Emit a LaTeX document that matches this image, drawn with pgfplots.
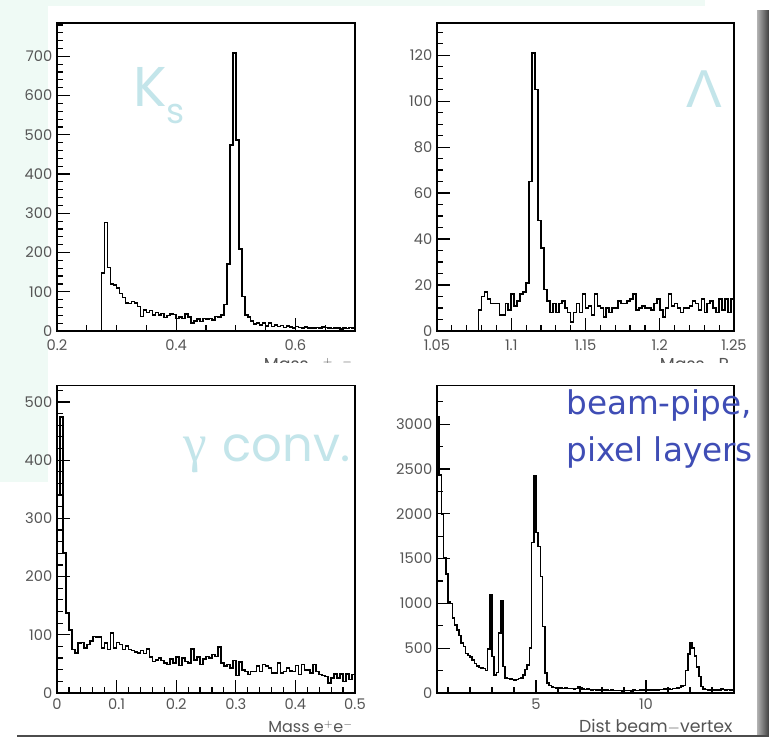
\documentclass[border=0pt]{standalone}
\usepackage{fontspec}
\setmainfont{Poppins}
\newfontfamily\serifgreek{Liberation Serif}
\newfontfamily\sansgreek{Liberation Sans}
\newfontfamily\comicfont{DejaVu Sans}
\usepackage{pgfplots}
\pgfplotsset{compat=1.18}
\definecolor{mint}{HTML}{EFFAF5}
\definecolor{lblue}{HTML}{C3E5EA}
\definecolor{dblue}{HTML}{3F4DB5}
\definecolor{tickgray}{HTML}{555555}
\pgfplotsset{
  rootstyle/.style={
    scale only axis,
    axis line style={line width=1.1pt},
    tick align=inside,
    xtick pos=bottom, ytick pos=left,
    major tick length=9.5pt, minor tick length=4.5pt,
    tick style={line width=0.9pt, black},
    ticklabel style={font=\fontsize{11}{11}\selectfont, text=tickgray},
    xticklabel style={yshift=-3pt},
    /pgf/number format/assume math mode=true,
    /pgf/number format/1000 sep={},
    scaled ticks=false,
    ymin=0,
  },
  hist/.style={const plot, black, line width=1.2pt, mark=none},
}
\begin{document}
\begin{tikzpicture}
\useasboundingbox (0,0) rectangle (576.75pt,552.75pt);
\fill[white] (0,0) rectangle (576.75pt,552.75pt);
\fill[mint] (0,191.25pt) rectangle (36pt,552.75pt);
\fill[mint] (0,548.25pt) rectangle (528.75pt,552.75pt);
\shade[left color=gray!60, right color=black!75] (567.75pt,0) rectangle (576.75pt,545pt);
\fill[black!70] (13pt,0) rectangle (576.75pt,1.6pt);

% ---------- Panel 1: K_s ----------
\begin{axis}[rootstyle, at={(42.75pt,304.5pt)}, anchor=south west,
  width=223.5pt, height=231pt,
  xmin=0.2, xmax=0.7, ymax=785,
  xtick={0.2,0.4,0.6}, minor xtick={0.25,0.3,0.35,0.45,0.5,0.55,0.65},
  ytick={0,100,...,700}, minor ytick={0,20,...,780}]
\addplot[hist] table {
x y
0.275 0
0.275 148
0.280 277
0.285 162
0.290 120
0.295 117
0.300 109
0.305 96
0.310 85
0.315 72
0.320 70
0.325 75
0.330 72
0.335 62
0.340 37
0.345 54
0.350 47
0.355 52
0.360 41
0.365 47
0.370 41
0.375 45
0.380 34
0.385 39
0.390 43
0.395 42
0.400 32
0.405 36
0.410 32
0.415 43
0.420 35
0.425 20
0.430 26
0.435 30
0.440 24
0.445 32
0.450 31
0.455 32
0.460 28
0.465 37
0.470 36
0.475 41
0.480 68
0.485 171
0.490 474
0.495 708
0.500 487
0.505 209
0.510 88
0.515 41
0.520 35
0.525 26
0.530 18
0.535 21
0.540 15
0.545 21
0.550 13
0.555 20
0.560 11
0.565 15
0.570 11
0.575 14
0.580 9
0.585 13
0.590 10
0.595 8
0.600 11
0.605 9
0.610 8
0.615 10
0.620 7
0.625 8
0.630 7
0.635 9
0.640 8
0.645 10
0.650 9
0.655 8
0.660 6
0.665 8
0.670 7
0.675 5
0.680 8
0.685 6
0.690 9
0.695 7
0.700 7
};
\end{axis}

% ---------- Panel 2: Lambda ----------
\begin{axis}[rootstyle, at={(327.75pt,304.5pt)}, anchor=south west,
  width=222.75pt, height=231pt,
  xmin=1.05, xmax=1.25, ymax=134,
  xtick={1.05,1.1,1.15,1.2,1.25},
  minor xtick={1.06,1.07,1.08,1.09,1.11,1.12,1.13,1.14,1.16,1.17,1.18,1.19,1.21,1.22,1.23,1.24},
  ytick={0,20,...,120}, minor ytick={0,5,...,130},
  xticklabel style={/pgf/number format/precision=2}]
\addplot[hist] table {
x y
1.078 0
1.078 9
1.080 15
1.082 17
1.084 14
1.086 12
1.088 12
1.090 12
1.092 7
1.094 7
1.096 12
1.098 9
1.100 16
1.102 11
1.104 13
1.106 16
1.108 17
1.110 21
1.112 65
1.114 121
1.116 105
1.118 48
1.120 36
1.122 18
1.124 13
1.126 8
1.128 12
1.130 8
1.132 12
1.134 13
1.136 10
1.138 8
1.140 4
1.142 8
1.144 12
1.146 8
1.148 16
1.150 10
1.152 11
1.154 7
1.156 16
1.158 11
1.160 10
1.162 6
1.164 10
1.166 8
1.168 10
1.170 10
1.172 13
1.174 12
1.176 12
1.178 13
1.180 14
1.182 16
1.184 9
1.186 10
1.188 11
1.190 10
1.192 10
1.194 9
1.196 12
1.198 14
1.200 9
1.202 6
1.204 10
1.206 16
1.208 11
1.210 12
1.212 10
1.214 8
1.216 10
1.218 10
1.220 11
1.222 13
1.224 12
1.226 9
1.228 14
1.230 8
1.232 12
1.234 13
1.236 10
1.238 8
1.240 14
1.242 9
1.244 14
1.246 8
1.248 14
1.250 14
};
\end{axis}

% ---------- Panel 3: gamma conversions ----------
\begin{axis}[rootstyle, at={(42.75pt,33pt)}, anchor=south west,
  width=223.5pt, height=230.5pt,
  xmin=0, xmax=0.5, ymax=528,
  xtick={0,0.1,0.2,0.3,0.4,0.5},
  minor xtick={0.02,0.04,0.06,0.08,0.12,0.14,0.16,0.18,0.22,0.24,0.26,0.28,0.32,0.34,0.36,0.38,0.42,0.44,0.46,0.48},
  ytick={0,100,...,500}, minor ytick={0,20,...,520},
  xticklabel style={yshift=2pt}]
\addplot[hist] table {
x y
0.000 0
0.000 340
0.005 474
0.010 240
0.015 137
0.020 108
0.025 75
0.030 69
0.035 86
0.040 87
0.045 77
0.050 83
0.055 89
0.060 97
0.065 96
0.070 96
0.075 77
0.080 86
0.085 75
0.090 103
0.095 77
0.100 87
0.105 83
0.110 75
0.115 81
0.120 75
0.125 73
0.130 70
0.135 69
0.140 73
0.145 68
0.150 76
0.155 62
0.160 54
0.165 57
0.170 60
0.175 56
0.180 52
0.185 49
0.190 58
0.195 52
0.200 62
0.205 47
0.210 60
0.215 54
0.220 52
0.225 76
0.230 57
0.235 62
0.240 49
0.245 58
0.250 63
0.255 60
0.260 66
0.265 63
0.270 79
0.275 52
0.280 46
0.285 49
0.290 43
0.295 56
0.300 30
0.305 53
0.310 40
0.315 37
0.320 32
0.325 37
0.330 37
0.335 46
0.340 37
0.345 49
0.350 46
0.355 43
0.360 34
0.365 34
0.370 52
0.375 34
0.380 37
0.385 43
0.390 38
0.395 37
0.400 47
0.405 32
0.410 49
0.415 40
0.420 39
0.425 34
0.430 49
0.435 37
0.440 32
0.445 30
0.450 28
0.455 17
0.460 26
0.465 33
0.470 26
0.475 33
0.480 20
0.485 33
0.490 23
0.495 32
0.500 32
};
\end{axis}

% ---------- Panel 4: distance beam-vertex ----------
\begin{axis}[rootstyle, at={(327.75pt,33pt)}, anchor=south west,
  width=222.75pt, height=230.5pt,
  xmin=0.5, xmax=14, ymax=3430,
  xtick={5,10}, minor xtick={1,2,3,4,6,7,8,9,11,12,13},
  ytick={0,500,...,3000}, minor ytick={250,750,1250,1750,2250,2750,3250},
  xticklabel style={yshift=2pt}]
\addplot[hist] table {
x y
0.5 3086
0.6 2431
0.7 1996
0.8 1505
0.9 1330
1.0 1015
1.1 1000
1.2 840
1.3 760
1.4 700
1.5 640
1.6 560
1.7 520
1.8 440
1.9 420
2.0 400
2.1 370
2.2 330
2.3 300
2.4 285
2.5 280
2.6 275
2.7 250
2.8 490
2.9 1100
3.0 409
3.1 204
3.2 230
3.3 669
3.4 1030
3.5 297
3.6 170
3.7 160
3.8 155
3.9 150
4.0 145
4.1 150
4.2 160
4.3 170
4.4 204
4.5 260
4.6 310
4.7 500
4.8 1680
4.9 2424
5.0 1792
5.1 1636
5.2 1300
5.3 743
5.4 223
5.5 112
5.6 82
5.7 70
5.8 62
5.9 58
6.0 55
6.1 55
6.2 52
6.3 55
6.4 50
6.5 48
6.6 52
6.7 47
6.8 50
6.9 70
7.0 55
7.1 45
7.2 40
7.3 42
7.4 38
7.5 36
7.6 40
7.7 35
7.8 33
7.9 36
8.0 32
8.1 30
8.2 32
8.3 28
8.4 30
8.5 27
8.6 28
8.7 26
8.8 28
8.9 25
9.0 27
9.1 26
9.2 28
9.3 25
9.4 30
9.5 28
9.6 27
9.7 32
9.8 30
9.9 35
10.0 33
10.1 30
10.2 36
10.3 34
10.4 38
10.5 35
10.6 40
10.7 37
10.8 42
10.9 40
11.0 45
11.1 40
11.2 48
11.3 50
11.4 55
11.5 62
11.6 75
11.7 82
11.8 252
11.9 438
12.0 565
12.1 502
12.2 416
12.3 290
12.4 185
12.5 74
12.6 45
12.7 38
12.8 35
12.9 32
13.0 30
13.1 36
13.2 30
13.3 35
13.4 48
13.5 40
13.6 30
13.7 38
13.8 30
13.9 30
14.0 30
};
\end{axis}

% ---------- axis titles ----------
\begin{scope}
\clip (0,280.5pt) rectangle (576.75pt,552.75pt);
\node[anchor=base east, inner sep=0pt, text=tickgray, font=\fontsize{13}{13}\selectfont] at (264.75pt,274.5pt) {Mass $\pi^{+}\pi^{-}$};
\node[anchor=base east, inner sep=0pt, text=tickgray, font=\fontsize{13}{13}\selectfont] at (546.75pt,274.5pt) {Mass $\pi$P};
\end{scope}
\node[anchor=base east, inner sep=0pt, text=tickgray, font=\fontsize{12}{12}\selectfont] at (264.75pt,3pt) {Mass e$^{+}$e$^{-}$};
\node[anchor=base east, inner sep=0pt, text=tickgray, font=\fontsize{13}{13}\selectfont] at (549.5pt,3.5pt) {Dist beam$-$vertex};

% ---------- annotations ----------
\node[anchor=base west, inner sep=0pt, text=lblue] at (99.75pt,472.5pt)
  {\fontsize{42}{42}\selectfont K\raisebox{-0.3em}{\fontsize{26}{26}\selectfont s}};
\node[anchor=base west, inner sep=0pt, text=lblue] at (514.5pt,471.75pt)
  {\sansgreek\fontsize{40}{40}\selectfont Λ};
\node[anchor=base west, inner sep=0pt, text=lblue] at (137.25pt,206.25pt)
  {{\serifgreek\fontsize{40}{40}\selectfont γ}\hspace{12pt}{\fontsize{36}{36}\selectfont conv.}};
\node[anchor=base west, inner sep=0pt, text=dblue] at (424.5pt,241.5pt)
  {\comicfont\fontsize{24.5}{24.5}\selectfont beam-pipe,};
\node[anchor=base west, inner sep=0pt, text=dblue] at (424.5pt,206.25pt)
  {\comicfont\fontsize{24.5}{24.5}\selectfont pixel layers};
\end{tikzpicture}
\end{document}
